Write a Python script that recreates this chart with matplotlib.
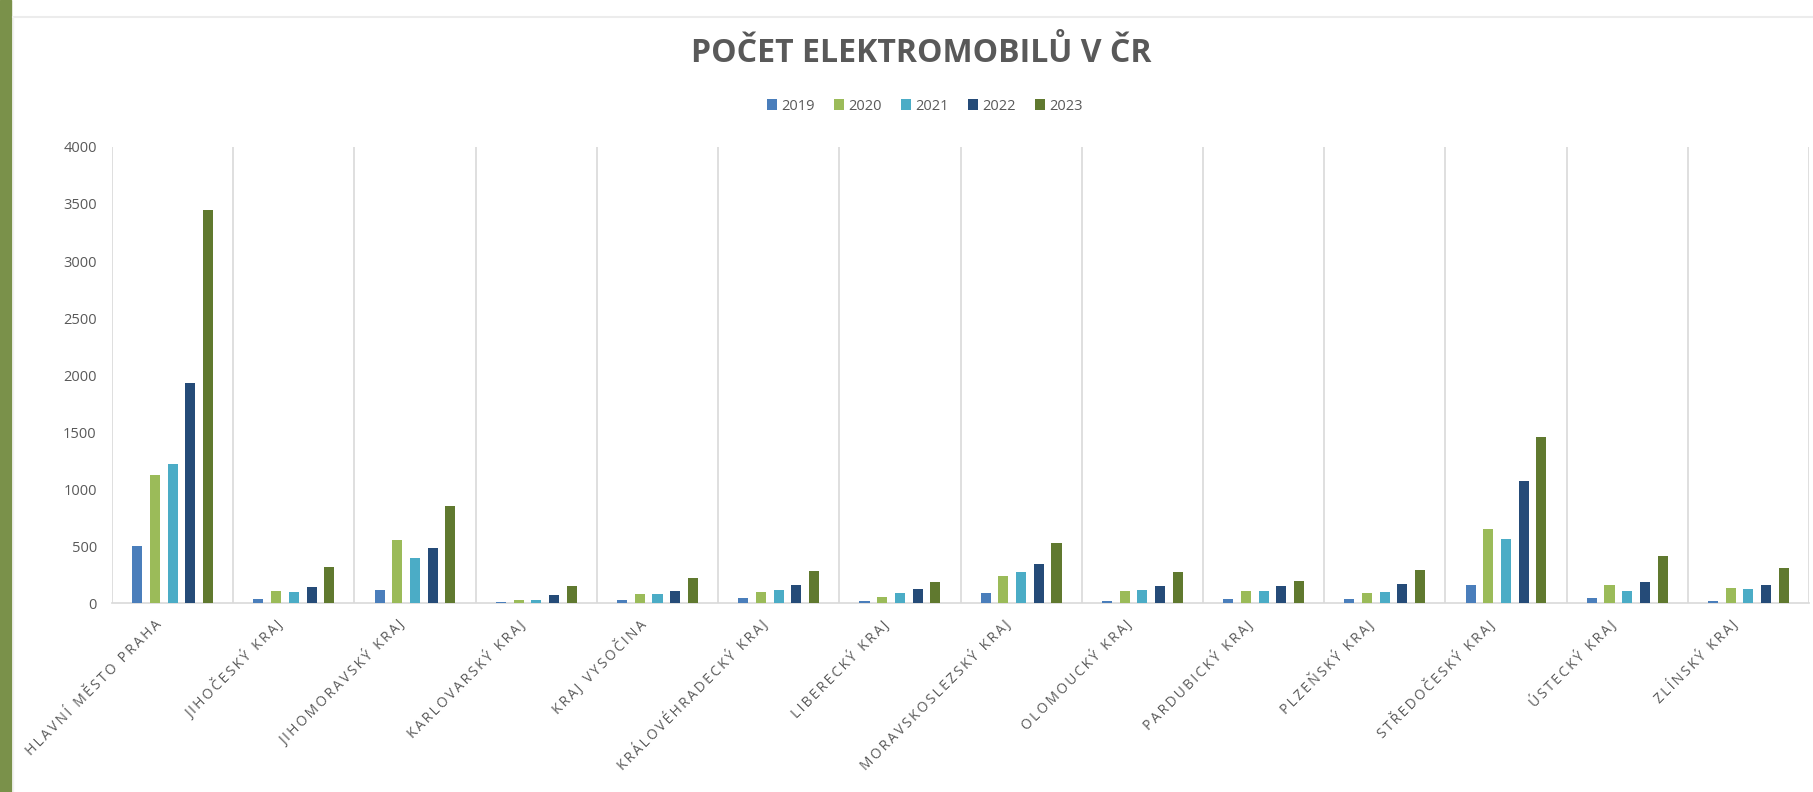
import matplotlib.pyplot as plt
import matplotlib.transforms as mtransforms
import numpy as np
from matplotlib.patches import Rectangle
from matplotlib.lines import Line2D

# %% data
regions = ["HLAVNÍ MĚSTO PRAHA", "JIHOČESKÝ KRAJ", "JIHOMORAVSKÝ KRAJ",
           "KARLOVARSKÝ KRAJ", "KRAJ VYSOČINA", "KRÁLOVÉHRADECKÝ KRAJ",
           "LIBERECKÝ KRAJ", "MORAVSKOSLEZSKÝ KRAJ", "OLOMOUCKÝ KRAJ",
           "PARDUBICKÝ KRAJ", "PLZEŇSKÝ KRAJ", "STŘEDOČESKÝ KRAJ",
           "ÚSTECKÝ KRAJ", "ZLÍNSKÝ KRAJ"]
years = ["2019", "2020", "2021", "2022", "2023"]

v2019 = [496, 38, 114, 5, 23, 44, 20, 85, 20, 38, 32, 161, 44, 18]
v2020 = [1124, 108, 549, 23, 79, 96, 50, 234, 102, 108, 91, 651, 158, 128]
v2021 = [1218, 96, 394, 26, 76, 111, 85, 272, 114, 105, 96, 561, 102, 126]
v2022 = [1927, 137, 482, 70, 108, 161, 126, 342, 152, 146, 166, 1074, 184, 161]
v2023 = [3451, 312, 855, 146, 219, 283, 181, 526, 274, 190, 289, 1454, 412, 304]

series = [v2019, v2020, v2021, v2022, v2023]
colors = ['#4a7ebb', '#9bbb59', '#4bacc6', '#254b78', '#60792f']

plt.rcParams['font.family'] = ['Open Sans', 'DejaVu Sans']
grey = '#595959'


def spaced(s):
    # excel draws these labels with extra letter spacing
    return '\u2009'.join(s)


# %% figure and axes
fig = plt.figure(figsize=(18.13, 7.92), dpi=100)
ax = fig.add_axes([0.0618, 0.2386, 0.9360, 0.5758])

x = np.arange(len(regions))
step = 0.146
width = 0.083
for i, vals in enumerate(series):
    ax.bar(x + (i - 2) * step, vals, width=width, color=colors[i],
           label=years[i], zorder=3)

ax.set_xlim(-0.5, len(regions) - 0.5)
ax.set_ylim(0, 4000)
ax.set_yticks(np.arange(0, 4001, 500))

# vertical separators between categories
for b in np.arange(-0.5, len(regions), 1.0):
    ax.axvline(b, color='#d9d9d9', lw=1.2, zorder=1)

for s in ['top', 'right', 'left']:
    ax.spines[s].set_visible(False)
ax.spines['bottom'].set_color('#d9d9d9')
ax.spines['bottom'].set_linewidth(1.2)

ax.set_xticks(x)
ax.set_xticklabels([spaced(r) for r in regions], rotation=45, ha='right',
                   va='center', rotation_mode='anchor', fontsize=10,
                   color=grey)
ax.tick_params(axis='x', length=0, pad=14)
ax.tick_params(axis='y', length=0, pad=11, labelsize=10.5, labelcolor=grey)

# shift the rotated labels a bit left so they end at the category centre
offset = mtransforms.ScaledTranslation(-0.13, 0, fig.dpi_scale_trans)
for lab in ax.get_xticklabels():
    lab.set_transform(lab.get_transform() + offset)

# %% title and legend
fig.text(0.508, 1 - 54 / 792, "POČET ELEKTROMOBILŮ V ČR", ha='center',
         va='center', fontsize=23, fontweight='bold', color=grey)
fig.legend(*ax.get_legend_handles_labels(), loc='center',
           bbox_to_anchor=(0.510, 1 - 106 / 792), ncol=5, frameon=False,
           fontsize=10.5, handlelength=0.7, handleheight=0.7,
           handletextpad=0.3, columnspacing=1.3, labelcolor=grey)

# %% frame decorations (green stripe, card border)
fig.patches.append(Rectangle((0, 0), 11 / 1813, 1, transform=fig.transFigure,
                             color='#7a914a', zorder=0))
fig.lines.append(Line2D([13 / 1813, 1], [1 - 17 / 792, 1 - 17 / 792],
                        transform=fig.transFigure, color='#ececec', lw=1.5))
fig.lines.append(Line2D([13 / 1813, 13 / 1813], [0, 1 - 17 / 792],
                        transform=fig.transFigure, color='#f2f2f2', lw=1.0))

fig.savefig('out.png', dpi=100)
